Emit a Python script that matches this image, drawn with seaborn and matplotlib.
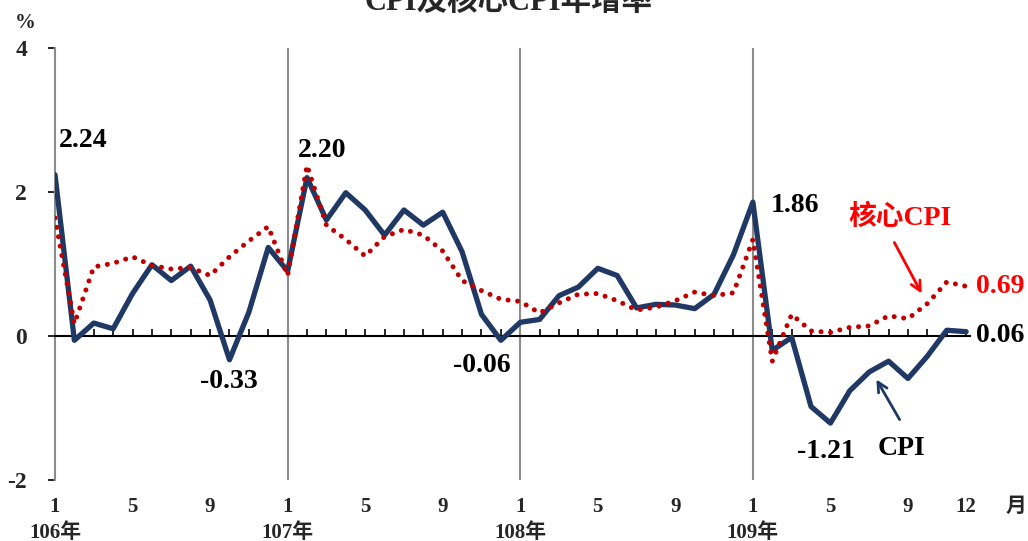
import numpy as np
import pandas as pd
import seaborn as sns
import matplotlib
matplotlib.use("Agg")
import matplotlib.pyplot as plt
from matplotlib.transforms import blended_transform_factory

# monthly YoY (%) from 106/1 to 109/12
cpi = [2.24, -0.06, 0.18, 0.10, 0.59, 0.99, 0.77, 0.97, 0.50, -0.33, 0.33, 1.23,
       0.90, 2.20, 1.61, 1.99, 1.75, 1.40, 1.75, 1.54, 1.72, 1.17, 0.30, -0.06,
       0.19, 0.23, 0.56, 0.68, 0.94, 0.84, 0.39, 0.44, 0.43, 0.38, 0.58, 1.13,
       1.86, -0.20, -0.02, -0.98, -1.21, -0.76, -0.50, -0.35, -0.59, -0.28, 0.08, 0.06]
core_cpi = [1.64, 0.17, 0.96, 1.01, 1.10, 0.98, 0.93, 0.95, 0.84, 1.10, 1.32, 1.52,
            0.84, 2.37, 1.54, 1.34, 1.11, 1.38, 1.48, 1.40, 1.18, 0.77, 0.63, 0.51,
            0.48, 0.32, 0.46, 0.58, 0.59, 0.49, 0.36, 0.40, 0.49, 0.61, 0.56, 0.60,
            1.34, -0.35, 0.30, 0.07, 0.05, 0.12, 0.14, 0.28, 0.24, 0.45, 0.75, 0.69]
years = ["106年", "107年", "108年", "109年"]
month_ticks = [0, 4, 8, 12, 16, 20, 24, 28, 32, 36, 40, 44, 47]
month_labels = ["1", "5", "9", "1", "5", "9", "1", "5", "9", "1", "5", "9", "12"]

df = pd.DataFrame({"m": np.arange(len(cpi)), "cpi": cpi, "core": core_cpi})

sns.set_style("white")
plt.rcParams["font.family"] = ["Liberation Serif", "Noto Sans CJK TC"]
plt.rcParams["font.weight"] = "bold"

W, H = 1028, 541
fig = plt.figure(figsize=(W / 100, H / 100), dpi=100)
ax = fig.add_axes([55 / W, 1 - 480 / H, (970 - 55) / W, (480 - 48) / H])

NAVY = "#1F3864"
DRED = "#C00000"

for yr in (12, 24, 36):
    ax.axvline(yr, color="#8c8c8c", lw=1.5, zorder=1)

sns.lineplot(data=df, x="m", y="cpi", ax=ax, color=NAVY, lw=3.8, zorder=3)
sns.lineplot(data=df, x="m", y="core", ax=ax, color=DRED, lw=3.6,
             linestyle=(0, (0.01, 1.9)), dash_capstyle="round", zorder=4)

ax.set_xlim(0, 47.2)
ax.set_ylim(-2, 4)
ax.set_xlabel("")
ax.set_ylabel("")

for s in ("top", "right"):
    ax.spines[s].set_visible(False)
ax.spines["left"].set_color("#8c8c8c")
ax.spines["left"].set_linewidth(1.5)
ax.spines["bottom"].set_position(("data", 0))
ax.spines["bottom"].set_color("black")
ax.spines["bottom"].set_linewidth(1.5)

ax.set_yticks([-2, 0, 2, 4])
ax.set_yticklabels(["-2", "0", "2", "4"])
ax.tick_params(axis="y", direction="out", length=5, width=1.2, color="black",
               labelsize=17, pad=15, left=True)
ax.set_xticks(np.arange(48))
ax.tick_params(axis="x", direction="in", length=5, width=1.2, color="black",
               labelbottom=False, bottom=True)
for lab in ax.get_yticklabels():
    lab.set_fontweight("bold")

# month / year labels under the plot
tr = blended_transform_factory(ax.transData, fig.transFigure)
for m, lab in zip(month_ticks, month_labels):
    ax.text(m, 1 - 512 / H, lab, transform=tr, ha="center", va="baseline",
            fontsize=15, fontweight="bold")
for i, yl in enumerate(years):
    ax.text(i * 12, 1 - 538 / H, yl, transform=tr, ha="center", va="baseline",
            fontsize=15, fontweight="bold")
fig.text(1016 / W, 1 - 512 / H, "月", ha="center", va="baseline", fontsize=15, fontweight="bold")
fig.text(25 / W, 1 - 23 / H, "%", ha="center", va="center", fontsize=15, fontweight="bold")

fig.text(508 / W, 1 - 10 / H, "CPI及核心CPI年增率", ha="center", va="baseline",
         fontsize=22, fontweight="bold")

# value labels (pixel positions of the reference)
notes = [("2.24", 83, 147, "black"), ("2.20", 322, 157, "black"),
         ("-0.33", 229, 388, "black"), ("-0.06", 482, 372, "black"),
         ("1.86", 795, 212, "black"), ("-1.21", 826, 458, "black"),
         ("0.06", 1000, 342, "black"), ("0.69", 1000, 293, "#FF0000"),
         ("核心CPI", 900, 225, "#FF0000"), ("CPI", 901, 455, "black")]
for txt, px, py, c in notes:
    fig.text(px / W, 1 - py / H, txt, ha="center", va="baseline", fontsize=20,
             fontweight="bold", color=c)

ax.annotate("", xy=(923, H - 296), xytext=(893, H - 240), xycoords="figure pixels",
            textcoords="figure pixels",
            arrowprops=dict(arrowstyle="->,head_length=0.7,head_width=0.35", color="#FF0000", lw=2))
ax.annotate("", xy=(875, H - 377), xytext=(901, H - 422), xycoords="figure pixels",
            textcoords="figure pixels",
            arrowprops=dict(arrowstyle="->,head_length=0.7,head_width=0.35", color=NAVY, lw=2))

fig.savefig("out.png", dpi=100)
